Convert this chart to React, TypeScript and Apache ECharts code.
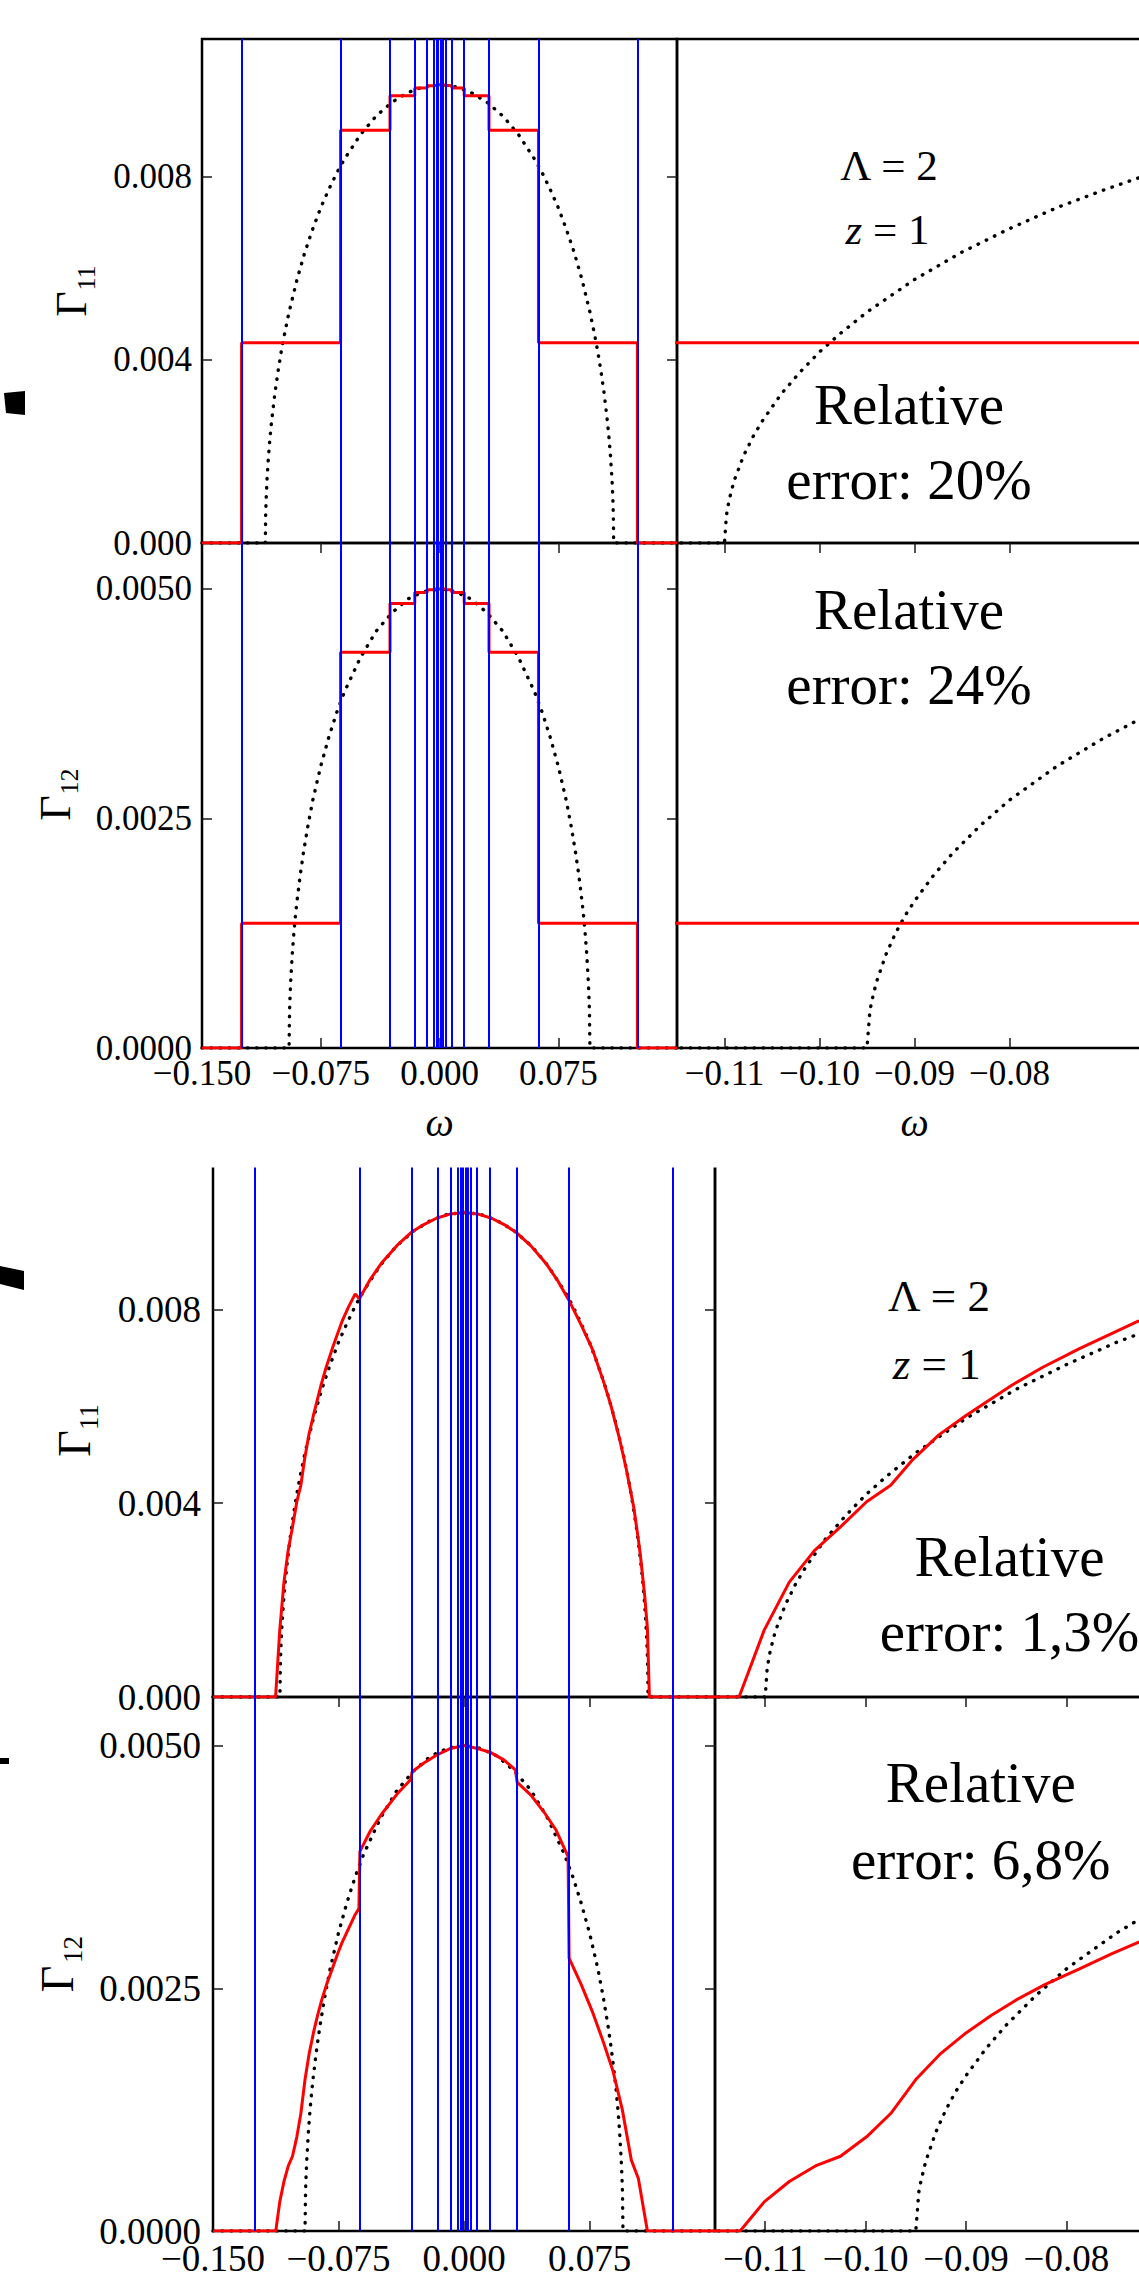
import React, { useEffect, useRef } from "react";
import * as echarts from "echarts";

// ---------------- data ----------------
// discretisation edges (blue vertical lines) — Λ = 2 logarithmic grid
const BIN_EDGES = [
  -0.125, -0.0625, -0.03125, -0.015625, -0.0078125, -0.00390625, -0.001953125, -0.0009765625,
  0.0009765625, 0.001953125, 0.00390625, 0.0078125, 0.015625, 0.03125, 0.0625, 0.125,
];
// discretised (step) hybridisation, one value per bin
const STEP_G11 = [0.00437, 0.00901, 0.00976, 0.00993, 0.00998, 0.00999, 0.01, 0.01, 0.01, 0.00999, 0.00998, 0.00993, 0.00976, 0.00901, 0.00437];
const STEP_G12 = [0.00136, 0.00431, 0.00484, 0.00496, 0.00499, 0.005, 0.005, 0.005, 0.005, 0.005, 0.00499, 0.00496, 0.00484, 0.00431, 0.00136];

// exact Γ (black dotted)
const EXACT_G11: number[][] = [
  [-0.15, 0], [-0.11, 0], [-0.1098, 0.0006], [-0.1095, 0.00095], [-0.109, 0.00135], [-0.108, 0.0019],
  [-0.107, 0.00232], [-0.106, 0.00267], [-0.104, 0.00326], [-0.102, 0.00374], [-0.1, 0.00417],
  [-0.098, 0.00454], [-0.095, 0.00504], [-0.09, 0.00575], [-0.085, 0.00635], [-0.08, 0.00686],
  [-0.075, 0.00732], [-0.07, 0.00771], [-0.065, 0.00807], [-0.06, 0.00838], [-0.05, 0.00891],
  [-0.04, 0.00932], [-0.03, 0.00962], [-0.02, 0.00983], [-0.01, 0.00996], [0, 0.01],
  [0.01, 0.00996], [0.02, 0.00983], [0.03, 0.00962], [0.04, 0.00932], [0.05, 0.00891],
  [0.06, 0.00838], [0.065, 0.00807], [0.07, 0.00771], [0.075, 0.00732], [0.08, 0.00686],
  [0.085, 0.00635], [0.09, 0.00575], [0.095, 0.00504], [0.098, 0.00454], [0.1, 0.00417],
  [0.102, 0.00374], [0.104, 0.00326], [0.106, 0.00267], [0.107, 0.00232], [0.108, 0.0019],
  [0.109, 0.00135], [0.1095, 0.00095], [0.1098, 0.0006], [0.11, 0], [0.15, 0],
];
const EXACT_G12: number[][] = [
  [-0.15, 0], [-0.095, 0], [-0.0947, 0.0004], [-0.0945, 0.00051], [-0.094, 0.00072], [-0.093, 0.00102],
  [-0.092, 0.00125], [-0.091, 0.00144], [-0.09, 0.0016], [-0.088, 0.00188], [-0.086, 0.00212],
  [-0.083, 0.00243], [-0.08, 0.0027], [-0.075, 0.00307], [-0.07, 0.00338], [-0.065, 0.00365],
  [-0.06, 0.00388], [-0.05, 0.00425], [-0.04, 0.00454], [-0.03, 0.00474], [-0.02, 0.00489],
  [-0.01, 0.00497], [0, 0.005], [0.01, 0.00497], [0.02, 0.00489], [0.03, 0.00474], [0.04, 0.00454],
  [0.05, 0.00425], [0.06, 0.00388], [0.065, 0.00365], [0.07, 0.00338], [0.075, 0.00307],
  [0.08, 0.0027], [0.083, 0.00243], [0.086, 0.00212], [0.088, 0.00188], [0.09, 0.0016],
  [0.091, 0.00144], [0.092, 0.00125], [0.093, 0.00102], [0.094, 0.00072], [0.0945, 0.00051],
  [0.0947, 0.0004], [0.095, 0], [0.15, 0],
];

// reconstructed Γ (red, lower figure)
const APPROX_G11: number[][] = [
  [-0.15, 0], [-0.1126, 0], [-0.1101, 0.00138], [-0.1076, 0.00237], [-0.1051, 0.00302], [-0.1025, 0.00351],
  [-0.0999, 0.00403], [-0.0975, 0.00437], [-0.0953, 0.0049], [-0.0927, 0.00541], [-0.09, 0.00581],
  [-0.0854, 0.00644], [-0.0824, 0.0068], [-0.0787, 0.00719], [-0.0754, 0.00751], [-0.0729, 0.00775],
  [-0.069, 0.00805], [-0.065, 0.00832], [-0.0625, 0.00822], [-0.056, 0.00862], [-0.0494, 0.00895],
  [-0.04, 0.00932], [-0.0315, 0.00959], [-0.024, 0.00975], [-0.0165, 0.00988], [-0.008, 0.00997],
  [0, 0.01], [0.008, 0.00997], [0.0165, 0.00988], [0.024, 0.00975], [0.0315, 0.00958], [0.04, 0.00931],
  [0.0494, 0.00893], [0.056, 0.00859], [0.0625, 0.0082], [0.07, 0.00768], [0.0767, 0.00718],
  [0.083, 0.00655], [0.0877, 0.00603], [0.093, 0.00532], [0.097, 0.0047], [0.1014, 0.00392],
  [0.104, 0.0033], [0.1055, 0.0029], [0.108, 0.00208], [0.1096, 0.00142], [0.1108, 0], [0.15, 0],
];
const APPROX_G12: number[][] = [
  [-0.15, 0], [-0.1125, 0], [-0.1101, 0.0003], [-0.1076, 0.00051], [-0.105, 0.00067], [-0.1025, 0.00077],
  [-0.0999, 0.00097], [-0.0975, 0.00121], [-0.095, 0.00156], [-0.0925, 0.00183], [-0.09, 0.00204],
  [-0.0875, 0.00222], [-0.085, 0.00238], [-0.0821, 0.00254], [-0.0787, 0.0027], [-0.0754, 0.00286],
  [-0.0729, 0.00297], [-0.065, 0.00326], [-0.0628, 0.00332], [-0.0622, 0.00391], [-0.056, 0.00412],
  [-0.0494, 0.00429], [-0.04, 0.0045], [-0.0318, 0.00465], [-0.031, 0.00473], [-0.024, 0.00482],
  [-0.0165, 0.0049], [-0.008, 0.00497], [0, 0.005], [0.008, 0.00497], [0.0158, 0.00493],
  [0.024, 0.00485], [0.0307, 0.00475], [0.0318, 0.00462], [0.04, 0.00449], [0.048, 0.00431],
  [0.055, 0.00413], [0.0608, 0.00391], [0.0622, 0.00386], [0.0628, 0.00281], [0.07, 0.00254],
  [0.0767, 0.00226], [0.083, 0.00196], [0.089, 0.00165], [0.0946, 0.00125], [0.1, 0.00073],
  [0.1042, 0.00054], [0.1096, 0], [0.15, 0],
];

// tick labels
const LEFT_X_LABELS = [-0.15, -0.075, 0, 0.075];
const LEFT_X_TICKS = [-0.075, 0, 0.075];
const RIGHT_X_TICKS = [-0.11, -0.1, -0.09, -0.08];
const G11_Y_TICKS = [0, 0.004, 0.008];
const G12_Y_TICKS = [0, 0.0025, 0.005];
const ERROR_TEXTS = ["error: 20%", "error: 24%", "error: 1,3%", "error: 6,8%"];

// ---------------- layout ----------------
const FONT = "'Liberation Serif', 'Times New Roman', serif";
const CHART_W = 1260; // wider than the page: the right panels are cut by the page edge
const LABEL_LH = 24;
const FIGS = [
  { left: 202, width: 475, tickFont: 35, yMargin: 10, gFont: 44, sFont: 26, mFont: 43 },
  { left: 213, width: 502, tickFont: 37, yMargin: 12, gFont: 46, sFont: 27, mFont: 45 },
];
const ROWS = [
  { fig: 0, top: 39, height: 504, kind: 11, steps: true, xLab: false, xMargin: 13.5, omega: false,
    gam: [71.7, 304, 86, 278], note: [909, 404, 479], lam: [889, 165, 887.5, 229] },
  { fig: 0, top: 543, height: 505, kind: 12, steps: true, xLab: true, xMargin: 13.5, omega: true,
    gam: [55.7, 808, 69, 781.5], note: [909, 609, 684], lam: null },
  { fig: 1, top: 1164, height: 533, kind: 11, steps: false, xLab: false, xMargin: 15.5, omega: false,
    gam: [74.6, 1443.5, 89, 1417], note: [1009.5, 1556, 1631], lam: [939, 1296, 936.7, 1364] },
  { fig: 1, top: 1697, height: 534, kind: 12, steps: false, xLab: true, xMargin: 15.5, omega: false,
    gam: [57.4, 1979, 73, 1949.5], note: [980.8, 1782.5, 1859], lam: null },
];

function fmt(v: number, d: number): string {
  if (Math.abs(v) < 1e-12) return (0).toFixed(d);
  const s = Math.abs(v).toFixed(d);
  return v < 0 ? "\u2212" + s : s;
}

function stepData(values: number[]): number[][] {
  const pts: number[][] = [[-0.15, 0]];
  BIN_EDGES.forEach((e, i) => pts.push([e, i < values.length ? values[i] : 0]));
  pts.push([0.15, 0]);
  return pts;
}

function txt(text: string, x: number, y: number, size: number, extra: any = {}) {
  return {
    type: "text",
    x,
    y,
    z: 50,
    silent: true,
    ...extra,
    style: {
      text,
      fontSize: size,
      fontFamily: FONT,
      fill: "#000",
      align: "center",
      verticalAlign: "middle",
      textAlign: "center",
      textVerticalAlign: "middle",
      ...(extra.style || {}),
    },
  };
}

function buildOption() {
  const grid: any[] = [];
  const xAxis: any[] = [];
  const yAxis: any[] = [];
  const series: any[] = [];
  const graphic: any[] = [];
  const tickStyle = { color: "#1a1a1a", width: 1.5 };

  ROWS.forEach((row, r) => {
    const fig = FIGS[row.fig];
    const isG11 = row.kind === 11;
    const yMax = isG11 ? 0.011 : 0.0055;
    const yTicks = isG11 ? G11_Y_TICKS : G12_Y_TICKS;
    const yDec = isG11 ? 3 : 4;
    const exact = isG11 ? EXACT_G11 : EXACT_G12;
    const red = row.steps ? stepData(isG11 ? STEP_G11 : STEP_G12) : isG11 ? APPROX_G11 : APPROX_G12;

    [0, 1].forEach((side) => {
      const g = grid.length;
      grid.push({
        left: side === 0 ? fig.left : fig.left + fig.width,
        top: row.top,
        width: fig.width,
        height: row.height,
        show: true,
        borderColor: "#000",
        borderWidth: 2.5,
        backgroundColor: "transparent",
      });
      const xMin = side === 0 ? -0.15 : -0.115;
      const xMax = side === 0 ? 0.15 : -0.065;
      const xTickVals = side === 0 ? LEFT_X_TICKS : RIGHT_X_TICKS;
      const xLabelVals = side === 0 ? LEFT_X_LABELS : RIGHT_X_TICKS;
      const xDec = side === 0 ? 3 : 2;
      const hasXTicks = row.xLab;
      const xBase = {
        gridIndex: g, type: "value", min: xMin, max: xMax,
        axisLine: { show: false, onZero: false }, splitLine: { show: false },
      };
      xAxis.push({
        ...xBase,
        position: "bottom",
        axisTick: { show: hasXTicks, inside: true, length: 10, lineStyle: tickStyle, customValues: xTickVals },
        axisLabel: {
          show: row.xLab, customValues: xLabelVals, showMinLabel: true, showMaxLabel: true,
          formatter: (v: number) => fmt(v, xDec), margin: row.xMargin, lineHeight: LABEL_LH,
          fontFamily: FONT, fontSize: fig.tickFont, color: "#000",
        },
        name: row.omega ? "\u03C9" : "",
        nameLocation: "middle",
        nameGap: 54,
        nameTextStyle: { fontFamily: FONT, fontStyle: "italic", fontSize: 40, color: "#000" },
      });
      xAxis.push({
        ...xBase,
        position: "top",
        axisTick: { show: hasXTicks, inside: true, length: 10, lineStyle: tickStyle, customValues: xTickVals },
        axisLabel: { show: false },
      });
      const yBase = {
        gridIndex: g, type: "value", min: 0, max: yMax,
        axisLine: { show: false, onZero: false }, splitLine: { show: false },
      };
      yAxis.push({
        ...yBase,
        position: "left",
        axisTick: { show: side === 0, inside: true, length: 10, lineStyle: tickStyle, customValues: yTicks },
        axisLabel: {
          show: side === 0, customValues: yTicks, showMinLabel: true, showMaxLabel: true,
          formatter: (v: number) => fmt(v, yDec), margin: fig.yMargin, lineHeight: LABEL_LH,
          fontFamily: FONT, fontSize: fig.tickFont, color: "#000",
        },
      });
      yAxis.push({
        ...yBase,
        position: "right",
        axisTick: { show: side === 0, inside: true, length: 10, lineStyle: tickStyle, customValues: yTicks },
        axisLabel: { show: false },
      });

      const ai = 2 * g;
      series.push({
        type: "line", xAxisIndex: ai, yAxisIndex: ai, data: exact, symbol: "none", showSymbol: false,
        silent: true, clip: true, z: 2,
        lineStyle: { color: "#000", width: 3.4, type: [0.5, 8.6], cap: "round" },
      });
      series.push({
        type: "line", xAxisIndex: ai, yAxisIndex: ai, data: red, symbol: "none", showSymbol: false,
        silent: true, clip: true, z: 3, step: row.steps ? "end" : false,
        lineStyle: { color: "#ff0000", width: 3 },
      });
      if (side === 0) {
        series.push({
          type: "line", xAxisIndex: ai, yAxisIndex: ai, data: [], silent: true, z: 5,
          markLine: {
            silent: true, symbol: ["none", "none"], animation: false, precision: 12,
            label: { show: false }, emphasis: { disabled: true },
            lineStyle: { color: "#0000ff", width: 2, type: "solid" },
            data: BIN_EDGES.map((v) => ({ xAxis: v })),
          },
        });
      }
    });

    // Γ labels (rotated)
    const sub = isG11 ? "11" : "12";
    graphic.push(txt("\u0393", row.gam[0], row.gam[1], fig.gFont, { rotation: Math.PI / 2 }));
    graphic.push(txt(sub, row.gam[2], row.gam[3], fig.sFont, { rotation: Math.PI / 2 }));

    // relative error annotation
    graphic.push(txt("Relative", row.note[0], row.note[1], 57));
    graphic.push(txt(ERROR_TEXTS[r], row.note[0], row.note[2], 57));

    // Λ, z annotation
    if (row.lam) {
      graphic.push(txt("\u039B = 2", row.lam[0], row.lam[1], fig.mFont));
      graphic.push(
        txt("{i|z} = 1", row.lam[2], row.lam[3], fig.mFont, {
          style: { rich: { i: { fontStyle: "italic", fontSize: fig.mFont, fontFamily: FONT, fill: "#000" } } },
        })
      );
    }
  });

  // crop edge of the lower figure (its top spine is cut off)
  graphic.push({ type: "rect", z: 100, silent: true, shape: { x: 150, y: 1146, width: 1100, height: 21.5 }, style: { fill: "#fff" } });
  // remnants of cropped panel letters on the left edge
  graphic.push({ type: "polygon", z: 100, silent: true, shape: { points: [[4, 393], [25, 391], [25, 415], [6, 413]] }, style: { fill: "#000" } });
  graphic.push({ type: "polygon", z: 100, silent: true, shape: { points: [[0, 1266], [24, 1271], [24, 1290], [0, 1284]] }, style: { fill: "#000" } });
  graphic.push({ type: "rect", z: 100, silent: true, shape: { x: 0, y: 1758, width: 9, height: 6 }, style: { fill: "#000" } });

  return {
    animation: false,
    backgroundColor: "#fff",
    textStyle: { fontFamily: FONT },
    grid,
    xAxis,
    yAxis,
    series,
    graphic: { elements: graphic },
  };
}

export default function App() {
  const ref = useRef<HTMLDivElement>(null);
  useEffect(() => {
    const chart = echarts.init(ref.current as HTMLDivElement, null, { renderer: "svg" });
    chart.setOption(buildOption() as any);
    return () => chart.dispose();
  }, []);
  return (
    <div
      style={{ position: "absolute", left: 0, top: 0, width: 1139, height: 2293, overflow: "hidden", background: "#fff" }}
    >
      <div ref={ref} style={{ width: CHART_W, height: 2293 }} />
    </div>
  );
}
